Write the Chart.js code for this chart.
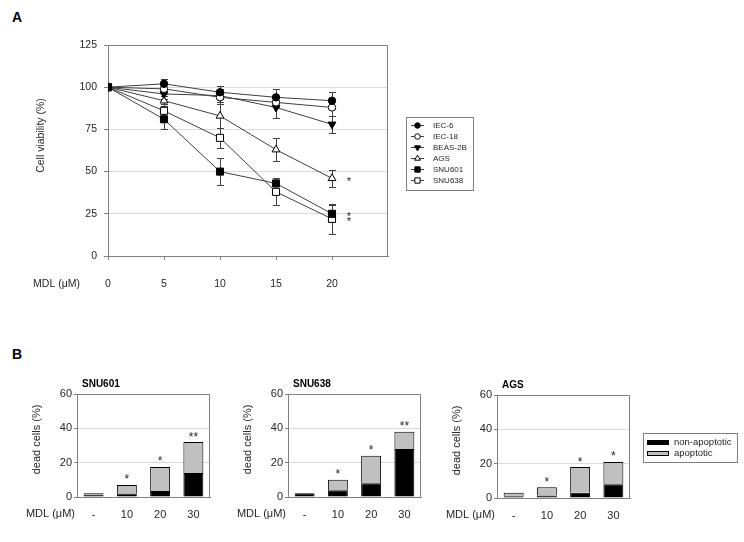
<!DOCTYPE html>
<html>
<head>
<meta charset="utf-8">
<script src="https://cdn.jsdelivr.net/npm/chart.js@4.4.0/dist/chart.umd.min.js"></script>
<style>
  html, body { margin: 0; padding: 0; background: #fff; }
  #wrap { position: relative; width: 744px; height: 542px; overflow: hidden;
          font-family: 'Liberation Sans', Arial, sans-serif; }
  #wrap canvas { position: absolute; }
  .panel { position: absolute; font-weight: bold; font-size: 14px; color: #000; }
</style>
</head>
<body>
<div id="wrap">
  <div class="panel" style="left:12px;top:9px">A</div>
  <div class="panel" style="left:12px;top:346px">B</div>
  <canvas id="viability" width="500" height="300" style="left:0;top:0"></canvas>
  <canvas id="snu601" width="215" height="182" style="left:0;top:360px"></canvas>
  <canvas id="snu638" width="215" height="182" style="left:211px;top:360px"></canvas>
  <canvas id="ags" width="324" height="181" style="left:420px;top:361px"></canvas>
</div>
<script>
// ===== データ (A: 細胞生存率) =====
const DOSES = [0, 5, 10, 15, 20];
const VIAB_TICKS = [0, 25, 50, 75, 100, 125];

const iec6   = [100, 102, 97, 94, 92];
const iec18  = [100, 99, 94, 91, 88];
const beas2b = [100, 96, 95, 88, 78];
const ags    = [100, 92, 83, 63, 46];
const snu601 = [100, 81, 50, 43, 25];
const snu638 = [100, 86, 70, 38, 22];

// 標準偏差
const iec6Sd   = [0, 3, 4, 5, 5];
const iec18Sd  = [0, 3, 4, 3, 5];
const beas2bSd = [0, 3, 4, 6, 5];
const agsSd    = [0, 3, 7, 7, 5];
const snu601Sd = [0, 6, 8, 3, 5];
const snu638Sd = [0, 4, 6, 8, 9];

const SIG_LINES = ['AGS', 'SNU601', 'SNU638']; // 20μMで有意

// ===== データ (B: 死細胞) =====
const MDL_LABELS = ['-', '10', '20', '30'];
const DEAD_TICKS = [0, 20, 40, 60];

const snu601Non = [1.4, 2, 3.5, 14];
const snu601Apo = [0.8, 5, 14, 18];
const snu638Non = [2.2, 4, 8, 28];
const snu638Apo = [0, 6, 16, 10];
const agsNon    = [1, 1.5, 3, 8];
const agsApo    = [2, 4.8, 15, 13];

const snu601Sig = ['', '*', '*', '**'];
const snu638Sig = ['', '*', '*', '**'];
const agsSig    = ['', '*', '*', '*'];

// ===== 共通 =====
const FONT = "'Liberation Sans', Arial, sans-serif";
const AXIS = '#808080';
const GRID = '#d9d9d9';
const TEXT = '#262626';
Chart.defaults.font.family = FONT;
Chart.defaults.color = TEXT;

function font(size, bold) {
  return `${bold ? 'bold ' : ''}${size}px ${FONT}`;
}

function drawMarker(ctx, style, rot, fill, r, x, y) {
  ctx.beginPath();
  if (style === 'circle') {
    ctx.arc(x, y, r, 0, Math.PI * 2);
  } else if (style === 'rect') {
    const s = r * Math.SQRT1_2;
    ctx.rect(x - s, y - s, 2 * s, 2 * s);
  } else {
    const d = rot === 180 ? -1 : 1;
    ctx.moveTo(x, y - d * r);
    ctx.lineTo(x + 0.866 * r, y + d * r / 2);
    ctx.lineTo(x - 0.866 * r, y + d * r / 2);
    ctx.closePath();
  }
  ctx.fillStyle = fill;
  ctx.fill();
  ctx.strokeStyle = '#000';
  ctx.lineWidth = 1;
  ctx.stroke();
}

// プロット枠 (上・右)
const framePlugin = {
  id: 'frame',
  beforeDatasetsDraw(chart) {
    const { ctx, chartArea: a } = chart;
    ctx.save();
    ctx.strokeStyle = AXIS;
    ctx.lineWidth = 1;
    ctx.beginPath();
    ctx.moveTo(Math.round(a.left) + 0.5, Math.round(a.top) + 0.5);
    ctx.lineTo(Math.round(a.right) - 0.5, Math.round(a.top) + 0.5);
    ctx.lineTo(Math.round(a.right) - 0.5, Math.round(a.bottom));
    ctx.stroke();
    ctx.restore();
  },
};

// ===== A: 折れ線 =====
const MARKERS = {
  'IEC-6':   { style: 'circle',   rot: 0,   fill: '#000', r: 3.7 },
  'IEC-18':  { style: 'circle',   rot: 0,   fill: '#fff', r: 3.7 },
  'BEAS-2B': { style: 'triangle', rot: 180, fill: '#000', r: 4.5 },
  'AGS':     { style: 'triangle', rot: 0,   fill: '#fff', r: 4.5 },
  'SNU601':  { style: 'rect',     rot: 0,   fill: '#000', r: 5 },
  'SNU638':  { style: 'rect',     rot: 0,   fill: '#fff', r: 5 },
};

const SERIES = [
  ['IEC-6', iec6, iec6Sd],
  ['IEC-18', iec18, iec18Sd],
  ['BEAS-2B', beas2b, beas2bSd],
  ['AGS', ags, agsSd],
  ['SNU601', snu601, snu601Sd],
  ['SNU638', snu638, snu638Sd],
];

const errorBars = {
  id: 'errorBars',
  beforeDatasetsDraw(chart) {
    const { ctx, scales: { x, y } } = chart;
    ctx.save();
    ctx.strokeStyle = '#404040';
    ctx.lineWidth = 1;
    chart.data.datasets.forEach(ds => {
      ds.data.forEach((p, i) => {
        const e = ds.sd[i];
        if (!e) return;
        const px = Math.round(x.getPixelForValue(p.x)) + 0.5;
        const top = Math.round(y.getPixelForValue(p.y + e)) + 0.5;
        const bot = Math.round(y.getPixelForValue(p.y - e)) + 0.5;
        ctx.beginPath();
        ctx.moveTo(px, top); ctx.lineTo(px, bot);
        ctx.moveTo(px - 3.5, top); ctx.lineTo(px + 3.5, top);
        ctx.moveTo(px - 3.5, bot); ctx.lineTo(px + 3.5, bot);
        ctx.stroke();
      });
    });
    ctx.restore();
  },
};

const viabText = {
  id: 'viabText',
  afterDraw(chart) {
    const { ctx, chartArea: a, scales: { x, y } } = chart;
    ctx.save();
    ctx.fillStyle = TEXT;
    // 軸タイトル
    ctx.font = font(10.5);
    ctx.textAlign = 'center';
    ctx.textBaseline = 'middle';
    ctx.translate(a.left - 67, (a.top + a.bottom) / 2 - 15);
    ctx.rotate(-Math.PI / 2);
    ctx.fillText('Cell viability (%)', 0, 0);
    ctx.setTransform(1, 0, 0, 1, 0, 0);
    ctx.textAlign = 'right';
    ctx.fillText('MDL (μM)', a.left - 28, a.bottom + 28);
    // 有意差 *
    ctx.font = font(11);
    ctx.textAlign = 'center';
    ctx.textBaseline = 'alphabetic';
    chart.data.datasets.forEach(ds => {
      if (!SIG_LINES.includes(ds.label)) return;
      const last = ds.data[ds.data.length - 1];
      ctx.fillText('*', x.getPixelForValue(21.5), y.getPixelForValue(last.y) + 6.5);
    });
    // 凡例
    const left = a.right + 18, top = a.top + 72;
    ctx.strokeStyle = AXIS;
    ctx.lineWidth = 1;
    ctx.strokeRect(Math.round(left) + 0.5, Math.round(top) + 0.5, 67, 73);
    ctx.font = font(8);
    ctx.textAlign = 'left';
    ctx.textBaseline = 'middle';
    chart.data.datasets.forEach((ds, i) => {
      const yy = Math.round(top + 8 + i * 10.9) + 0.5;
      const m = MARKERS[ds.label];
      ctx.strokeStyle = '#404040';
      ctx.beginPath();
      ctx.moveTo(left + 5, yy); ctx.lineTo(left + 18, yy);
      ctx.stroke();
      drawMarker(ctx, m.style, m.rot, m.fill, m.r * 0.75, left + 11.5, yy);
      ctx.fillStyle = TEXT;
      ctx.fillText(ds.label, left + 27, yy);
    });
    ctx.restore();
  },
};

new Chart(document.getElementById('viability'), {
  type: 'line',
  data: {
    datasets: SERIES.map(([name, vals, sd]) => {
      const m = MARKERS[name];
      return {
        label: name,
        data: DOSES.map((d, i) => ({ x: d, y: vals[i] })),
        sd,
        borderColor: '#404040',
        borderWidth: 1,
        pointStyle: m.style,
        pointRotation: m.rot,
        pointRadius: m.r,
        pointBackgroundColor: m.fill,
        pointBorderColor: '#000',
        pointBorderWidth: 1,
        tension: 0,
      };
    }),
  },
  options: {
    responsive: false,
    animation: false,
    layout: { padding: { top: 45, right: 112, left: 0, bottom: 0 } },
    plugins: { legend: { display: false }, tooltip: { enabled: false } },
    scales: {
      x: {
        type: 'linear', min: 0, max: 25,
        afterBuildTicks: s => { s.ticks = DOSES.map(v => ({ value: v })); },
        afterFit: s => { s.height = 44; },
        grid: { drawOnChartArea: false, tickLength: 4, color: AXIS },
        border: { color: AXIS },
        ticks: { font: { size: 10.5 }, padding: 18, color: TEXT },
      },
      y: {
        min: 0, max: 125,
        afterBuildTicks: s => { s.ticks = VIAB_TICKS.map(v => ({ value: v })); },
        afterFit: s => { s.width = 108; },
        grid: { color: GRID, tickColor: AXIS, tickLength: 4 },
        border: { color: AXIS },
        ticks: { font: { size: 10.5 }, padding: 7, color: TEXT },
      },
    },
  },
  plugins: [framePlugin, errorBars, viabText],
});

// ===== B: 積み上げ棒 =====
const deadText = {
  id: 'deadText',
  afterDraw(chart, args, opts) {
    const { ctx, chartArea: a } = chart;
    ctx.save();
    // タイトル
    ctx.font = font(10, true);
    ctx.fillStyle = '#000';
    ctx.textAlign = 'left';
    ctx.textBaseline = 'middle';
    ctx.fillText(opts.title, a.left + 5, a.top - 10);
    ctx.fillStyle = TEXT;
    // 軸タイトル
    ctx.font = font(11);
    ctx.textAlign = 'center';
    ctx.translate(a.left - 40, (a.top + a.bottom) / 2 - 6);
    ctx.rotate(-Math.PI / 2);
    ctx.fillText('dead cells (%)', 0, 0);
    ctx.setTransform(1, 0, 0, 1, 0, 0);
    ctx.textAlign = 'right';
    ctx.fillText('MDL (μM)', a.left - 2, a.bottom + 17);
    // 有意差 *
    ctx.font = font(12);
    ctx.textAlign = 'center';
    ctx.textBaseline = 'alphabetic';
    const top = chart.getDatasetMeta(1).data;
    opts.sig.forEach((s, i) => {
      if (s) ctx.fillText(s, top[i].x, top[i].y - 1.5);
    });
    // 凡例
    if (opts.showLegend) {
      const lx = a.right + 13, ly = a.top + 38;
      ctx.strokeStyle = AXIS;
      ctx.lineWidth = 1;
      ctx.strokeRect(Math.round(lx) + 0.5, Math.round(ly) + 0.5, 94, 29);
      ctx.font = font(9.5);
      ctx.textAlign = 'left';
      ctx.textBaseline = 'middle';
      chart.data.datasets.forEach((ds, i) => {
        const yy = Math.round(ly + 9 + i * 11);
        ctx.fillStyle = ds.backgroundColor;
        ctx.fillRect(lx + 4, yy - 2, 22, 5);
        ctx.strokeStyle = '#000';
        ctx.strokeRect(lx + 4.5, yy - 1.5, 21, 4);
        ctx.fillStyle = TEXT;
        ctx.fillText(ds.label, lx + 31, yy + 0.5);
      });
    }
    ctx.restore();
  },
};

function deadCellsChart(id, title, nonApo, apo, sig, showLegend) {
  const canvas = document.getElementById(id);
  return new Chart(canvas, {
    type: 'bar',
    data: {
      labels: MDL_LABELS,
      datasets: [
        { label: 'non-apoptotic', data: nonApo, backgroundColor: '#000', borderColor: '#000', borderWidth: 1,
          barPercentage: 0.6, categoryPercentage: 1 },
        { label: 'apoptotic', data: apo, backgroundColor: '#c0c0c0', borderColor: '#000', borderWidth: 1,
          barPercentage: 0.6, categoryPercentage: 1 },
      ],
    },
    options: {
      responsive: false,
      animation: false,
      layout: { padding: { top: 34, right: canvas.width - 77 - 133, left: 0, bottom: 0 } },
      plugins: {
        legend: { display: false },
        tooltip: { enabled: false },
        deadText: { title, sig, showLegend },
      },
      scales: {
        x: {
          stacked: true,
          afterFit: s => { s.height = canvas.height - 137; },
          grid: { drawOnChartArea: false, drawTicks: false },
          border: { color: AXIS },
          ticks: { font: { size: 11 }, padding: 11, color: TEXT },
        },
        y: {
          stacked: true, min: 0, max: 60,
          afterBuildTicks: s => { s.ticks = DEAD_TICKS.map(v => ({ value: v })); },
          afterFit: s => { s.width = 77; },
          grid: { color: GRID, tickColor: AXIS, tickLength: 3 },
          border: { color: AXIS },
          ticks: { font: { size: 11 }, padding: 2, color: TEXT },
        },
      },
    },
    plugins: [framePlugin, deadText],
  });
}

deadCellsChart('snu601', 'SNU601', snu601Non, snu601Apo, snu601Sig, false);
deadCellsChart('snu638', 'SNU638', snu638Non, snu638Apo, snu638Sig, false);
deadCellsChart('ags', 'AGS', agsNon, agsApo, agsSig, true);
</script>
</body>
</html>
